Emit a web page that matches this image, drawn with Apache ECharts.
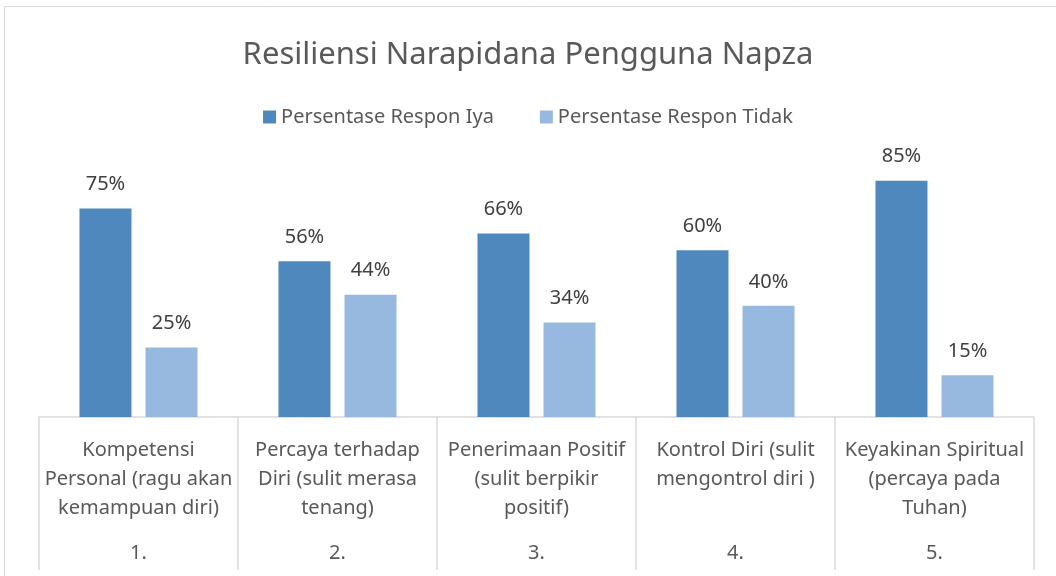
<!DOCTYPE html>
<html>
<head>
<meta charset="utf-8">
<script src="https://cdn.jsdelivr.net/npm/echarts@6/dist/echarts.min.js"></script>
<style>
  html, body { margin: 0; padding: 0; background: #fff; }
  #chart { width: 1056px; height: 576px; }
</style>
</head>
<body>
<div id="chart"></div>
<script>
const categories = [
  "Kompetensi\nPersonal (ragu akan\nkemampuan diri)",
  "Percaya terhadap\nDiri (sulit merasa\ntenang)",
  "Penerimaan Positif\n(sulit berpikir\npositif)",
  "Kontrol Diri (sulit\nmengontrol diri )",
  "Keyakinan Spiritual\n(percaya pada\nTuhan)"
];
const numbers = ["1.", "2.", "3.", "4.", "5."];
const responIya = [75, 56, 66, 60, 85];
const responTidak = [25, 44, 34, 40, 15];

const FONT = "Noto Sans";
const TEXT = "#595959";
const GRID_LINE = "#d9d9d9";

const chart = echarts.init(document.getElementById("chart"));

const labelStyle = {
  show: true,
  position: "top",
  distance: 14,
  formatter: (p) => p.value + "%",
  color: "#404040",
  fontFamily: FONT,
  fontSize: 20
};

chart.setOption({
  animation: false,
  textStyle: { fontFamily: FONT },
  title: {
    text: "Resiliensi Narapidana Pengguna Napza",
    left: "center",
    top: 35,
    textStyle: { color: TEXT, fontFamily: FONT, fontSize: 31, fontWeight: "normal" }
  },
  legend: {
    top: 102,
    left: "center",
    itemWidth: 13,
    itemHeight: 13,
    itemGap: 46,
    icon: "rect",
    textStyle: { color: TEXT, fontFamily: FONT, fontSize: 20 },
    data: ["Persentase Respon Iya", "Persentase Respon Tidak"]
  },
  graphic: [{
    type: "rect",
    shape: { x: 4.5, y: 6.5, width: 1100, height: 600 },
    style: { fill: "none", stroke: GRID_LINE, lineWidth: 1 },
    silent: true
  }],
  grid: { left: 39, right: 22, top: 139, bottom: 159 },
  xAxis: [
    {
      type: "category",
      data: categories,
      axisLine: { lineStyle: { color: GRID_LINE, width: 1.5 } },
      axisTick: { show: true, length: 153, lineStyle: { color: GRID_LINE, width: 1.5 } },
      axisLabel: {
        interval: 0,
        margin: 19,
        color: TEXT,
        fontFamily: FONT,
        fontSize: 20,
        lineHeight: 29,
        align: "center",
        verticalAlign: "top"
      }
    },
    {
      type: "category",
      data: numbers,
      position: "bottom",
      axisLine: { show: false },
      axisTick: { show: false },
      axisLabel: {
        interval: 0,
        margin: 126,
        color: TEXT,
        fontFamily: FONT,
        fontSize: 20,
        verticalAlign: "top"
      }
    }
  ],
  yAxis: {
    type: "value",
    min: 0,
    max: 100,
    show: false,
    splitLine: { show: false }
  },
  series: [
    {
      name: "Persentase Respon Iya",
      type: "bar",
      data: responIya,
      barWidth: 52,
      barGap: "27%",
      itemStyle: { color: "#4F88BC" },
      label: labelStyle
    },
    {
      name: "Persentase Respon Tidak",
      type: "bar",
      data: responTidak,
      barWidth: 52,
      barGap: "27%",
      itemStyle: { color: "#98B9DF" },
      label: labelStyle
    }
  ]
});
</script>
</body>
</html>
